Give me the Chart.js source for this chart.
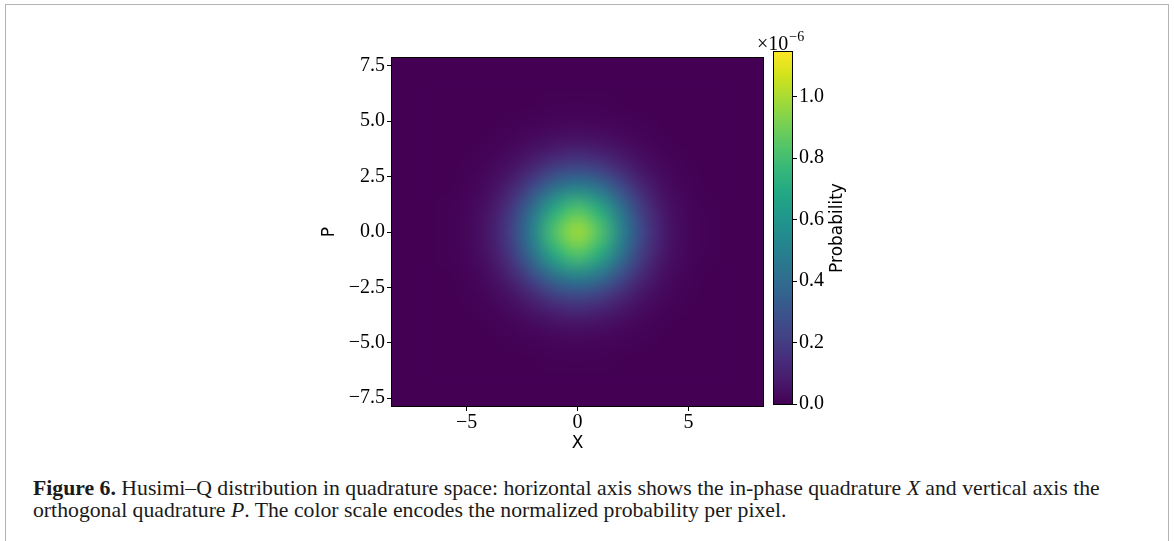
<!DOCTYPE html>
<html><head><meta charset="utf-8">
<script src="https://cdn.jsdelivr.net/npm/chart.js@4.4.0/dist/chart.umd.min.js"></script>
<style>
html,body{margin:0;padding:0;background:#fff;width:1174px;height:541px;overflow:hidden;position:relative;}
#frame{position:absolute;left:5px;top:4px;width:1164px;height:620px;border:1.5px solid #b4b4b4;box-sizing:border-box;}
#wrapMain{position:absolute;left:300px;top:40px;width:475px;height:420px;}
#wrapCb{position:absolute;left:740px;top:20px;width:140px;height:440px;}
#caption{position:absolute;left:33px;top:477px;font-family:"Liberation Serif",serif;font-size:18px;line-height:22px;color:#1a1a1a;white-space:nowrap;}
</style></head>
<body>
<div id="frame"></div>
<div id="wrapMain"><canvas id="main" width="475" height="420"></canvas></div>
<div id="wrapCb"><canvas id="cb" width="140" height="440"></canvas></div>
<div id="caption"><span id="l1"><b>Figure 6.</b> Husimi–Q distribution in quadrature space: horizontal axis shows the in-phase quadrature <i>X</i> and vertical axis the</span><br><span>orthogonal quadrature <i>P</i>. The color scale encodes the normalized probability per pixel.</span></div>
<script>
// ---- data (values in units of 1e-6) ----
const xCenters = [-6,-5,-4,-3,-2,-1,0,1,2,3,4,5,6];
const pCenters = [6,5,4,3,2,1,0,-1,-2,-3,-4,-5,-6];
const qValues = [
 [0,0,0,0,0.001,0.002,0.002,0.002,0.001,0,0,0,0],
 [0,0,0.001,0.003,0.007,0.012,0.014,0.012,0.007,0.003,0.001,0,0],
 [0,0.001,0.004,0.014,0.034,0.056,0.066,0.056,0.034,0.014,0.004,0.001,0],
 [0,0.003,0.014,0.047,0.110,0.184,0.218,0.184,0.110,0.047,0.014,0.003,0],
 [0.001,0.007,0.034,0.110,0.258,0.429,0.508,0.429,0.258,0.110,0.034,0.007,0.001],
 [0.002,0.012,0.056,0.184,0.429,0.712,0.844,0.712,0.429,0.184,0.056,0.012,0.002],
 [0.002,0.014,0.066,0.218,0.508,0.844,1.000,0.844,0.508,0.218,0.066,0.014,0.002],
 [0.002,0.012,0.056,0.184,0.429,0.712,0.844,0.712,0.429,0.184,0.056,0.012,0.002],
 [0.001,0.007,0.034,0.110,0.258,0.429,0.508,0.429,0.258,0.110,0.034,0.007,0.001],
 [0,0.003,0.014,0.047,0.110,0.184,0.218,0.184,0.110,0.047,0.014,0.003,0],
 [0,0.001,0.004,0.014,0.034,0.056,0.066,0.056,0.034,0.014,0.004,0.001,0],
 [0,0,0.001,0.003,0.007,0.012,0.014,0.012,0.007,0.003,0.001,0,0],
 [0,0,0,0,0.001,0.002,0.002,0.002,0.001,0,0,0,0]
];
const xTicks = [-5,0,5];
const pTicks = [7.5,5,2.5,0,-2.5,-5,-7.5];
const cbTicks = [0,0.2,0.4,0.6,0.8,1.0];
const xRange = [-8.36,8.36];
const pRange = [-7.85,7.85];
const cbRange = [0,1.145];

// ---- viridis colormap (style) ----
const VIR = ['#440154','#481a6c','#472f7d','#414487','#39568c','#31688e','#2a788e','#23888e',
             '#1f988b','#22a884','#35b779','#54c568','#7ad151','#a5db36','#d2e21b','#fde725'];
const VIRRGB = VIR.map(h=>[parseInt(h.substr(1,2),16),parseInt(h.substr(3,2),16),parseInt(h.substr(5,2),16)]);
function viridis(t){
  t = Math.max(0,Math.min(1,t));
  const f = t*(VIR.length-1); const i = Math.min(Math.floor(f),VIR.length-2); const r = f-i;
  const a = VIRRGB[i], b = VIRRGB[i+1];
  return [0,1,2].map(k=>Math.round(a[k]+(b[k]-a[k])*r));
}
const MINUS = '\u2212';
const fmt = (v,d)=>{ const s = Math.abs(v)<1e-9 ? (0).toFixed(d) : v.toFixed(d); return s.replace('-',MINUS); };
const tickFont = {family:'"Liberation Serif", serif', size:20};
const labFont = {family:'"DejaVu Sans", sans-serif', size:17};

const heatPlugin = {
  id:'heat',
  beforeDatasetsDraw(chart){
    const {ctx, chartArea:a, scales:{x,y}} = chart;
    ctx.save();
    ctx.beginPath(); ctx.rect(a.left,a.top,a.right-a.left,a.bottom-a.top); ctx.clip();
    const c0 = viridis(0);
    ctx.fillStyle = `rgb(${c0[0]},${c0[1]},${c0[2]})`;
    ctx.fillRect(a.left,a.top,a.right-a.left,a.bottom-a.top);
    const nx = xCenters.length, ny = pCenters.length;
    const off = document.createElement('canvas'); off.width = nx; off.height = ny;
    const octx = off.getContext('2d'); const img = octx.createImageData(nx,ny);
    for(let j=0;j<ny;j++) for(let i=0;i<nx;i++){
      const c = viridis((qValues[j][i]-cbRange[0])/(cbRange[1]-cbRange[0]));
      const o = (j*nx+i)*4; img.data[o]=c[0]; img.data[o+1]=c[1]; img.data[o+2]=c[2]; img.data[o+3]=255;
    }
    octx.putImageData(img,0,0);
    const hx = (xCenters[1]-xCenters[0])/2, hy = (pCenters[0]-pCenters[1])/2;
    const L = x.getPixelForValue(xCenters[0]-hx), R = x.getPixelForValue(xCenters[nx-1]+hx);
    const T = y.getPixelForValue(pCenters[0]+hy), B = y.getPixelForValue(pCenters[ny-1]-hy);
    ctx.imageSmoothingEnabled = true; ctx.imageSmoothingQuality = 'high';
    ctx.filter = 'blur(4px)';
    ctx.drawImage(off, L, T, R-L, B-T);
    ctx.restore();
  },
  afterDraw(chart){
    const {ctx, chartArea:a} = chart;
    ctx.save(); ctx.strokeStyle='#000'; ctx.lineWidth=1;
    ctx.strokeRect(Math.round(a.left)-0.5, Math.round(a.top)-0.5, Math.round(a.right-a.left)+1, Math.round(a.bottom-a.top)+1);
    ctx.restore();
  }
};

const points = [];
pCenters.forEach((p,j)=>xCenters.forEach((xv,i)=>points.push({x:xv,y:p,v:qValues[j][i]})));

new Chart(document.getElementById('main'), {
  type:'scatter',
  data:{datasets:[{data:points, pointRadius:0, pointHoverRadius:0, showLine:false}]},
  options:{
    responsive:false, animation:false, events:[],
    layout:{padding:{left:0,right:12,top:18,bottom:0}},
    plugins:{legend:{display:false}, tooltip:{enabled:false}},
    scales:{
      x:{type:'linear', min:xRange[0], max:xRange[1],
         afterBuildTicks:s=>{s.ticks = xTicks.map(v=>({value:v}));},
         afterFit:s=>{s.height=54;},
         grid:{drawOnChartArea:false, drawTicks:true, tickLength:5, tickColor:'#000', tickWidth:1},
         border:{display:false},
         ticks:{padding:0, color:'#000', font:tickFont, maxRotation:0, autoSkip:false, callback:v=>fmt(v,0)},
         title:{display:true, text:'X', color:'#000', font:labFont, padding:{top:0,bottom:6}}},
      y:{type:'linear', min:pRange[0], max:pRange[1],
         afterBuildTicks:s=>{s.ticks = pTicks.map(v=>({value:v}));},
         afterFit:s=>{s.width=92;},
         grid:{drawOnChartArea:false, drawTicks:true, tickLength:5, tickColor:'#000', tickWidth:1},
         border:{display:false},
         ticks:{padding:2, color:'#000', font:tickFont, autoSkip:false, callback:v=>fmt(v,1)},
         title:{display:true, text:'P', color:'#000', font:labFont, padding:{top:19,bottom:0}}}
    }
  },
  plugins:[heatPlugin]
});

const cbPlugin = {
  id:'cbar',
  beforeDatasetsDraw(chart){
    const {ctx, chartArea:a, scales:{y}} = chart;
    const y0 = y.getPixelForValue(cbRange[0]), y1 = y.getPixelForValue(cbRange[1]);
    const g = ctx.createLinearGradient(0,y0,0,y1);
    VIR.forEach((c,i)=>g.addColorStop(i/(VIR.length-1), c));
    ctx.save(); ctx.fillStyle = g; ctx.fillRect(a.left, y1, a.right-a.left, y0-y1);
    ctx.strokeStyle='#000'; ctx.lineWidth=1;
    ctx.strokeRect(Math.round(a.left)-0.5, Math.round(y1)-0.5, Math.round(a.right-a.left)+1, Math.round(y0-y1)+1);
    ctx.restore();
  },
  afterDraw(chart){
    const {ctx, chartArea:a} = chart;
    ctx.save(); ctx.fillStyle='#000';
    ctx.font = '20px "Liberation Serif", serif'; ctx.textBaseline='alphabetic'; ctx.textAlign='left';
    const base = '\u00d710';
    ctx.fillText(base, 17, 30);
    const w = ctx.measureText(base).width;
    ctx.font = '14px "Liberation Serif", serif';
    ctx.fillText(MINUS+'6', 17+w+1, 21);
    ctx.font = '17px "DejaVu Sans", sans-serif'; ctx.textAlign='center';
    ctx.translate(102, (a.top+a.bottom)/2); ctx.rotate(-Math.PI/2);
    ctx.fillText('Probability', 0, 0);
    ctx.restore();
  }
};

new Chart(document.getElementById('cb'), {
  type:'scatter',
  data:{datasets:[]},
  options:{
    responsive:false, animation:false, events:[],
    layout:{padding:{left:34,right:28,top:32,bottom:56}},
    plugins:{legend:{display:false}, tooltip:{enabled:false}},
    scales:{
      x:{display:false, min:0, max:1},
      y:{type:'linear', position:'right', min:cbRange[0], max:cbRange[1],
         afterBuildTicks:s=>{s.ticks = cbTicks.map(v=>({value:v}));},
         afterFit:s=>{s.width=60;},
         grid:{drawOnChartArea:false, drawTicks:true, tickLength:5, tickColor:'#000', tickWidth:1},
         border:{display:false},
         ticks:{padding:2, color:'#000', font:tickFont, autoSkip:false, callback:v=>fmt(v,1)}}
    }
  },
  plugins:[cbPlugin]
});

// caption sizing
(function(){
  const cap = document.getElementById('caption'), l1 = document.getElementById('l1');
  const w = l1.getBoundingClientRect().width;
  cap.style.fontSize = (18*1067/w).toFixed(2)+'px';
})();
</script>
</body></html>
